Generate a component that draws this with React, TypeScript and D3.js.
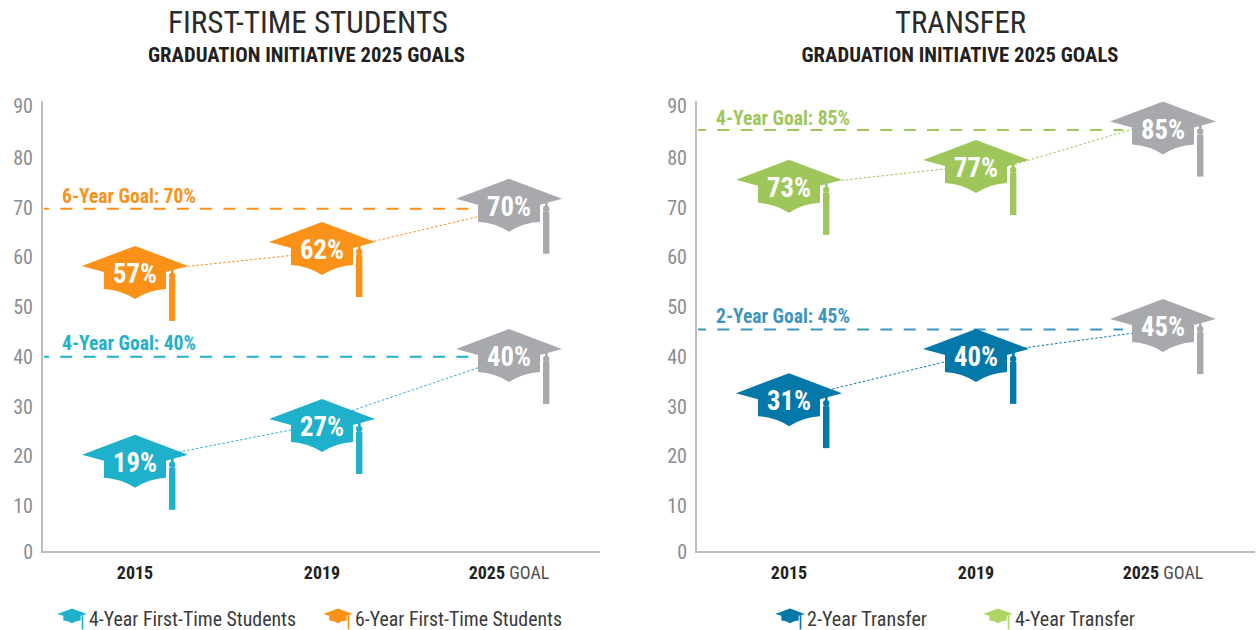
import React from "react";
import * as d3 from "d3";

// ---------- data ----------
const years = ["2015", "2019", "2025"];
const tickValues = [0, 10, 20, 30, 40, 50, 60, 70, 80, 90];

const ft4Labels = [19, 27, 40];
const ft4Levels = [20.3, 27.5, 41.6];
const ft4LinkStarts = [20.3, 29.2];
const ft4LinkEnds = [25.3, 37.8];
const ft6Labels = [57, 62, 70];
const ft6Levels = [58.3, 63.1, 71.8];
const ft6LinkStarts = [57.7, 62.2];
const ft6LinkEnds = [60.4, 68.2];
const tr2Labels = [31, 40, 45];
const tr2Levels = [32.7, 41.6, 47.6];
const tr2LinkStarts = [32.9, 41.3];
const tr2LinkEnds = [39.0, 44.75];
const tr4Labels = [73, 77, 85];
const tr4Levels = [75.6, 79.6, 87];
const tr4LinkStarts = [75, 78.2];
const tr4LinkEnds = [77.8, 85.5];

const TEAL = "#1fb1cb";
const ORANGE = "#fa9119";
const BLUE = "#0478a9";
const GREEN = "#9ec65a";
const LEGEND_GREEN = "#afd565";
const GREY = "#a8a9ad";
const FONT = "'Liberation Sans Narrow','Roboto Condensed','Liberation Sans',sans-serif";

const yScale = d3.scaleLinear().domain([0, 10, 80, 90]).range([552, 506, 158, 106]);

const hatBody = (() => {
  const p = d3.path();
  p.moveTo(-53, 0);
  p.lineTo(0, -20);
  p.lineTo(53, 0);
  p.lineTo(31, 6);
  p.lineTo(31, 23);
  p.quadraticCurveTo(14, 24, 0, 33);
  p.quadraticCurveTo(-14, 24, -31, 23);
  p.lineTo(-31, 6);
  p.closePath();
  return p.toString();
})();

function Hat({ x, y, color, label, k = 1 }: any) {
  return (
    <g transform={`translate(${x},${y}) scale(${k})`}>
      <path d={hatBody} fill={color} />
      {k === 1 ? (
        <g fill={color}>
          <rect x={36} y={2} width={2.6} height={10} />
          <circle cx={37.2} cy={10} r={3.2} />
          <rect x={34} y={13} width={6.4} height={42} />
        </g>
      ) : (
        <rect x={34.5} y={4} width={6} height={51} fill={color} />
      )}
      {label != null && (
        <text x={0} y={17} textAnchor="middle" fontFamily={FONT} fontWeight={700} fontSize={28.5}
          textLength={44} lengthAdjust="spacingAndGlyphs" fill="#fff">
          {label}%
        </text>
      )}
    </g>
  );
}

function Series({ x, labels, levels, starts, ends, color }: any) {
  return (
    <g>
      {ends.map((l: number, i: number) => (
        <line key={i} x1={x(i) + 30} y1={yScale(starts[i])} x2={x(i + 1) - 31} y2={yScale(l)}
          stroke={color} strokeWidth={1} strokeDasharray="2.5 2" />
      ))}
      {labels.map((v: number, i: number) => (
        <Hat key={i} x={x(i)} y={yScale(levels[i])} color={i === 2 ? GREY : color} label={v} />
      ))}
    </g>
  );
}

function Panel({ axisX, axisEnd, firstX, title, titleX, titleW, subtitleX, dashPhase, goals, series, legend }: any) {
  const x = d3.scaleLinear().domain([0, 2]).range([firstX, firstX + 374]);
  return (
    <g>
      <text x={titleX} y={33} textAnchor="middle" fontFamily={FONT} fontSize={31} textLength={titleW}
        lengthAdjust="spacingAndGlyphs" fill="#2b2a2b">{title}</text>
      <text x={subtitleX} y={62} textAnchor="middle" fontFamily={FONT} fontWeight={700} fontSize={21} textLength={317}
        lengthAdjust="spacingAndGlyphs" fill="#231f20">GRADUATION INITIATIVE 2025 GOALS</text>
      <path d={`M${axisX},101V552H${axisEnd}`} fill="none" stroke="#bcbec0" strokeWidth={2} />
      {tickValues.map((t) => (
        <text key={t} x={axisX - 9} y={yScale(t) + 7} textAnchor="end" fontFamily={FONT} fontSize={20} fill="#8b8d90">{t}</text>
      ))}
      {goals.map((g: any) => (
        <g key={g.label}>
          <line x1={axisX + 2} x2={x(2) - 40} y1={yScale(g.level)} y2={yScale(g.level)} stroke={g.color} strokeWidth={2}
            strokeDasharray="12 11.3" strokeDashoffset={dashPhase} />
          <text x={axisX + 20} y={yScale(g.level) - g.gap} fontFamily={FONT} fontWeight={700} fontSize={19.5} textLength={134}
            lengthAdjust="spacingAndGlyphs" fill={g.color}>{g.label}</text>
        </g>
      ))}
      {series.map((s: any, i: number) => <Series key={i} x={x} {...s} />)}
      {years.map((y, i) => (
        <text key={y} x={x(i)} y={578.5} textAnchor="middle" fontFamily={FONT} fontSize={18} fill="#231f20">
          <tspan fontWeight={700}>{y}</tspan>
          {i === 2 && <tspan fill="#4d4d4f"> GOAL</tspan>}
        </text>
      ))}
      {legend.map((l: any) => (
        <g key={l.text}>
          <Hat x={l.x} y={614} color={l.color} k={0.28} />
          <text x={l.x + 17} y={626} fontFamily={FONT} fontSize={20} textLength={l.w}
            lengthAdjust="spacingAndGlyphs" fill="#3a3a3c">{l.text}</text>
        </g>
      ))}
    </g>
  );
}

export default function App() {
  return (
    <svg width={1258} height={630} style={{ position: "absolute", left: 0, top: 0, display: "block", background: "#fff" }}>
      <Panel axisX={42} axisEnd={600} firstX={135} title="FIRST-TIME STUDENTS" titleX={308} titleW={280} subtitleX={306.5} dashPhase={7}
        goals={[
          { label: "6-Year Goal: 70%", level: 69.8, color: ORANGE, gap: 6 },
          { label: "4-Year Goal: 40%", level: 40, color: TEAL, gap: 6.5 },
        ]}
        series={[
          { labels: ft6Labels, levels: ft6Levels, starts: ft6LinkStarts, ends: ft6LinkEnds, color: ORANGE },
          { labels: ft4Labels, levels: ft4Levels, starts: ft4LinkStarts, ends: ft4LinkEnds, color: TEAL },
        ]}
        legend={[
          { x: 72, color: TEAL, text: "4-Year First-Time Students", w: 207 },
          { x: 338, color: ORANGE, text: "6-Year First-Time Students", w: 207 },
        ]}
      />
      <Panel axisX={696} axisEnd={1255} firstX={789} title="TRANSFER" titleX={960.5} titleW={131} subtitleX={960} dashPhase={4}
        goals={[
          { label: "4-Year Goal: 85%", level: 85.4, color: GREEN, gap: 5 },
          { label: "2-Year Goal: 45%", level: 45.5, color: "#3f95be", gap: 6.5 },
        ]}
        series={[
          { labels: tr4Labels, levels: tr4Levels, starts: tr4LinkStarts, ends: tr4LinkEnds, color: GREEN },
          { labels: tr2Labels, levels: tr2Levels, starts: tr2LinkStarts, ends: tr2LinkEnds, color: BLUE },
        ]}
        legend={[
          { x: 790, color: BLUE, text: "2-Year Transfer", w: 120 },
          { x: 998, color: LEGEND_GREEN, text: "4-Year Transfer", w: 120 },
        ]}
      />
    </svg>
  );
}
